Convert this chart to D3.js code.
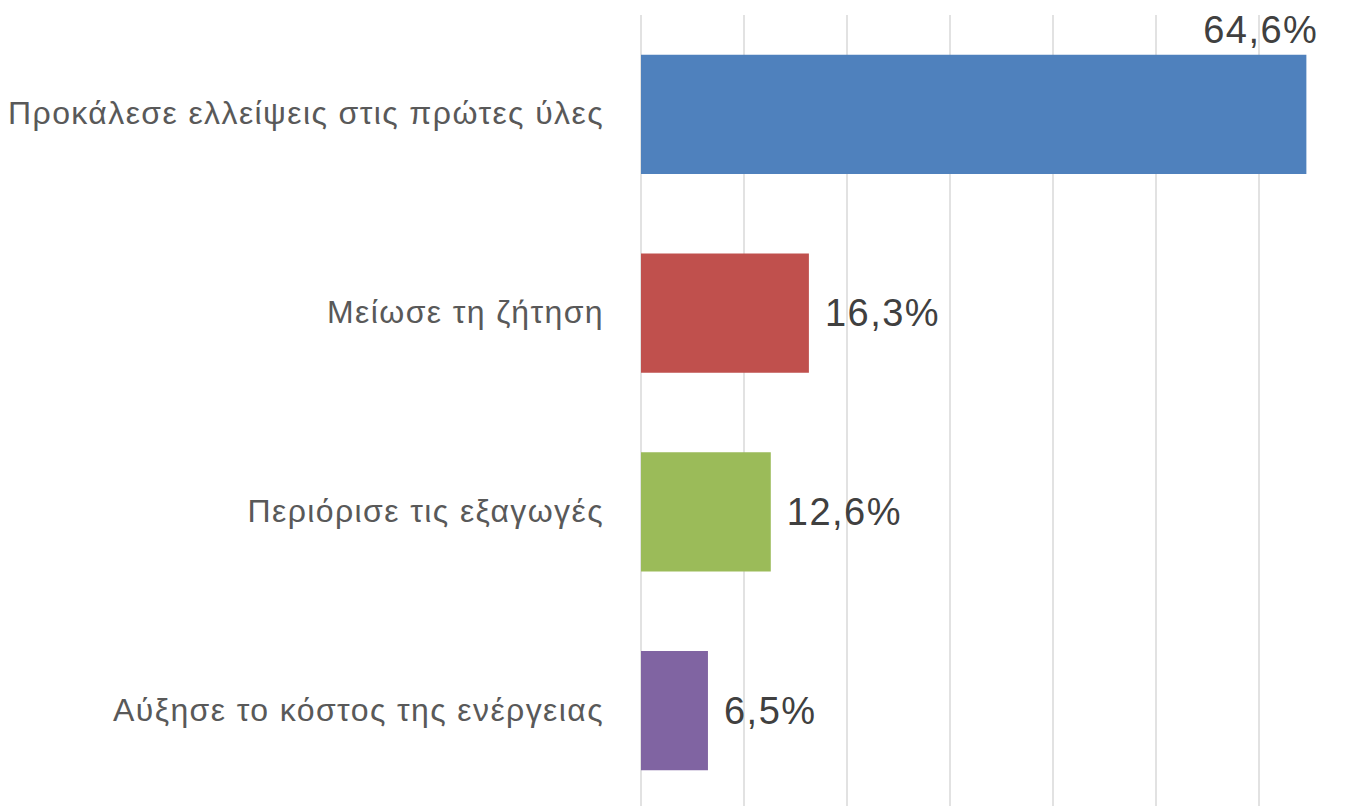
<!DOCTYPE html>
<html>
<head>
<meta charset="utf-8">
<script src="https://cdn.jsdelivr.net/npm/d3@7"></script>
<style>
  html, body { margin: 0; padding: 0; background: #fff; }
  svg { display: block; font-family: Arial, "Liberation Sans", sans-serif; }
</style>
</head>
<body>
<script>
// data
const categories = [
  "Προκάλεσε ελλείψεις στις πρώτες ύλες",
  "Μείωσε τη ζήτηση",
  "Περιόρισε τις εξαγωγές",
  "Αύξησε το κόστος της ενέργειας"
]
const values = [64.6, 16.3, 12.6, 6.5]
const colors = ["#4f81bd", "#c0504d", "#9bbb59", "#8064a2"]
const ticks = [0, 10, 20, 30, 40, 50, 60, 70]

const fmt = v => String(v.toFixed(1)).replace(".", ",") + "%"

const width = 1358, height = 806
const plot = { left: 641, right: 1362, top: 15, bottom: 810 }

const data = categories.map((c, i) => ({ c, v: values[i], color: colors[i] }))

const x = d3.scaleLinear()
  .domain([0, 70])
  .range([plot.left, plot.right])

const y = d3.scaleBand()
  .domain(categories)
  .range([plot.top, plot.bottom])
  .paddingInner(0.4)
  .paddingOuter(0.2)

const svg = d3.select("body").append("svg")
  .attr("width", width)
  .attr("height", height)

// gridlines
svg.append("g")
  .selectAll("line")
  .data(ticks)
  .enter().append("line")
    .attr("x1", d => x(d))
    .attr("x2", d => x(d))
    .attr("y1", plot.top)
    .attr("y2", height)
    .attr("stroke", "#d9d9d9")
    .attr("stroke-width", 1.5)

// bars
svg.append("g")
  .selectAll("rect")
  .data(data)
  .enter().append("rect")
    .attr("x", x(0))
    .attr("y", d => y(d.c))
    .attr("width", d => x(d.v) - x(0))
    .attr("height", y.bandwidth())
    .attr("fill", d => d.color)

// category labels
svg.append("g")
  .selectAll("text")
  .data(data)
  .enter().append("text")
    .attr("x", 604)
    .attr("y", d => y(d.c) + y.bandwidth() / 2)
    .attr("dy", "0.31em")
    .attr("text-anchor", "end")
    .attr("font-size", 32)
    .attr("letter-spacing", 1.4)
    .attr("fill", "#595959")
    .text(d => d.c)

// value labels (largest one sits above the bar end)
const maxV = d3.max(values)
svg.append("g")
  .selectAll("text")
  .data(data)
  .enter().append("text")
    .attr("x", d => d.v === maxV ? x(d.v) + 12 : x(d.v) + 16)
    .attr("y", d => d.v === maxV ? y(d.c) - 12 : y(d.c) + y.bandwidth() / 2)
    .attr("dy", d => d.v === maxV ? 0 : "0.35em")
    .attr("text-anchor", d => d.v === maxV ? "end" : "start")
    .attr("font-size", 38)
    .attr("letter-spacing", 1.5)
    .attr("fill", "#404040")
    .text(d => fmt(d.v))
</script>
</body>
</html>
